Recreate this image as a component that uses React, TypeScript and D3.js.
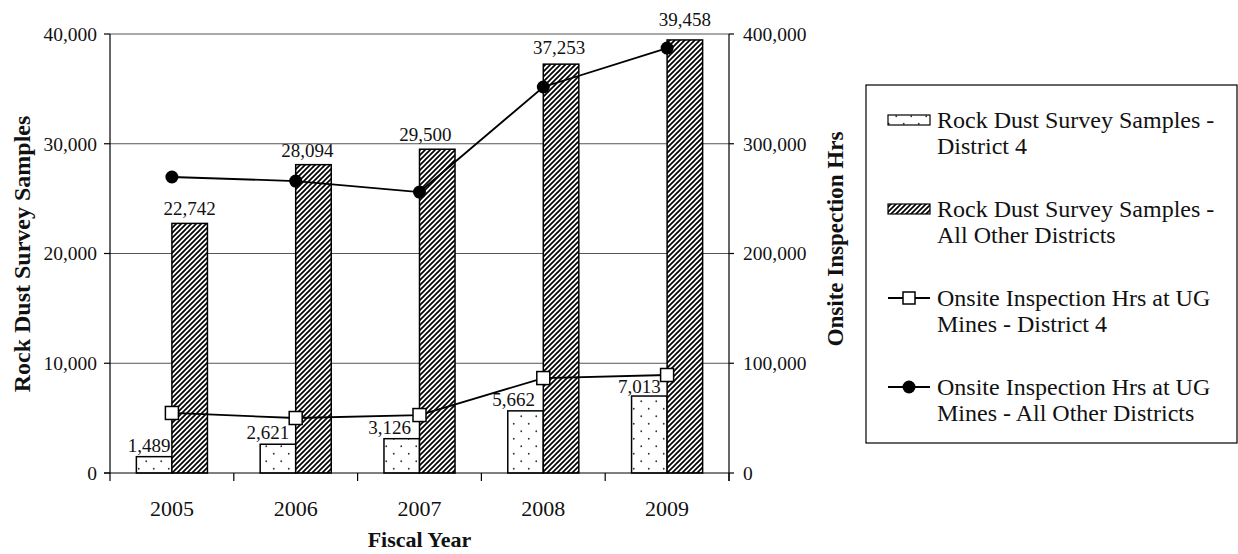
import React from 'react';
import * as d3 from 'd3';

const years = ['2005', '2006', '2007', '2008', '2009'];
const samplesD4 = [1489, 2621, 3126, 5662, 7013];
const samplesOther = [22742, 28094, 29500, 37253, 39458];
const hrsD4 = [54700, 50100, 52800, 86500, 89300];
const hrsOther = [269700, 266000, 256000, 351700, 387200];
const leftTicks = [0, 10000, 20000, 30000, 40000];
const rightTicks = [0, 100000, 200000, 300000, 400000];
const legendLabels = [
  ['Rock Dust Survey Samples -', 'District 4'],
  ['Rock Dust Survey Samples -', 'All Other Districts'],
  ['Onsite Inspection Hrs at UG', 'Mines - District 4'],
  ['Onsite Inspection Hrs at UG', 'Mines - All Other Districts'],
];
// label nudges (style): [dx, dy] per label
const labelNudgeD4 = [[-5, -5], [-10, -5], [-12, -5], [-12, -5], [-10, -3]];
const labelNudgeOther = [[0, -8], [-6, -8], [-12, -8], [-2, -10], [0, -14]];

const FONT = '"Liberation Serif", "Times New Roman", serif';
const T = { fontFamily: FONT };

export default function App() {
  const W = 1238, H = 554;
  const left = 110, right = 729, top = 34, bottom = 473;
  const x = d3.scaleBand<string>().domain(years).range([left, right]).paddingInner(0).paddingOuter(0);
  const yL = d3.scaleLinear().domain([0, 40000]).range([bottom, top]);
  const yR = d3.scaleLinear().domain([0, 400000]).range([bottom, top]);
  const bw = x.bandwidth();
  const barW = bw * 0.287;
  const cx = (y: string) => (x(y) as number) + bw / 2;
  const fmt = d3.format(',');

  const lineGen = (vals: number[]) =>
    d3.line<number>().x((_, i) => cx(years[i])).y((v) => yR(v))(vals) as string;

  const lgX = 866, lgY = 85, lgW = 371, lgH = 358;
  const entryY = (i: number) => 120 + i * 89;

  return (
    <svg width={W} height={H} style={{ position: 'absolute', left: 0, top: 0, background: '#fff' }}>
      <defs>
        <pattern id="hatch" patternUnits="userSpaceOnUse" width={5} height={5}>
          <rect width={5} height={5} fill="#fff" />
          <path d="M-1.25,1.25 L1.25,-1.25 M0,5 L5,0 M3.75,6.25 L6.25,3.75" stroke="#000" strokeWidth={1.7} />
        </pattern>
        <pattern id="dots" patternUnits="userSpaceOnUse" width={15} height={15}>
          <rect width={15} height={15} fill="#fff" />
          <circle cx={3.75} cy={3.75} r={0.9} fill="#333" />
          <circle cx={11.25} cy={11.25} r={0.9} fill="#333" />
        </pattern>
      </defs>

      {/* gridlines */}
      {leftTicks.filter((t) => t > 0).map((t) => (
        <line key={'g' + t} x1={left} x2={right} y1={yL(t)} y2={yL(t)} stroke="#555" strokeWidth={1} />
      ))}

      {/* bars */}
      {years.map((yr, i) => (
        <g key={'b' + yr}>
          <rect x={cx(yr) - barW} y={yL(samplesD4[i])} width={barW} height={bottom - yL(samplesD4[i])}
            fill="url(#dots)" stroke="#000" strokeWidth={1.5} />
          <rect x={cx(yr)} y={yL(samplesOther[i])} width={barW} height={bottom - yL(samplesOther[i])}
            fill="url(#hatch)" stroke="#000" strokeWidth={1.5} />
        </g>
      ))}

      {/* bar labels */}
      {years.map((yr, i) => (
        <g key={'l' + yr}>
          <text style={T} fontSize={19} fill="#111" x={cx(yr) - barW / 2 + labelNudgeD4[i][0]} y={yL(samplesD4[i]) + labelNudgeD4[i][1]} textAnchor="middle">{fmt(samplesD4[i])}</text>
          <text style={T} fontSize={19} fill="#111" x={cx(yr) + barW / 2 + labelNudgeOther[i][0]} y={yL(samplesOther[i]) + labelNudgeOther[i][1]} textAnchor="middle">{fmt(samplesOther[i])}</text>
        </g>
      ))}

      {/* lines */}
      <path d={lineGen(hrsD4)} fill="none" stroke="#000" strokeWidth={1.8} />
      <path d={lineGen(hrsOther)} fill="none" stroke="#000" strokeWidth={1.8} />
      {years.map((yr, i) => (
        <rect key={'s' + yr} x={cx(yr) - 6.5} y={yR(hrsD4[i]) - 6.5} width={13} height={13} fill="#fff" stroke="#000" strokeWidth={1.5} />
      ))}
      {years.map((yr, i) => (
        <circle key={'c' + yr} cx={cx(yr)} cy={yR(hrsOther[i])} r={6.5} fill="#000" />
      ))}

      {/* axes */}
      <line x1={left} x2={left} y1={top} y2={bottom} stroke="#000" strokeWidth={1.2} />
      <line x1={right} x2={right} y1={top} y2={bottom + 8} stroke="#000" strokeWidth={1.2} />
      <line x1={left - 6} x2={right} y1={bottom} y2={bottom} stroke="#000" strokeWidth={1.2} />
      {leftTicks.map((t) => (
        <g key={'lt' + t}>
          <line x1={left - 6} x2={left} y1={yL(t)} y2={yL(t)} stroke="#000" strokeWidth={1.2} />
          <text style={T} x={left - 13} y={yL(t)} dy="0.35em" textAnchor="end" fontSize={19.5} fill="#111">{fmt(t)}</text>
        </g>
      ))}
      {rightTicks.map((t) => (
        <g key={'rt' + t}>
          <line x1={right} x2={right + 5} y1={yR(t)} y2={yR(t)} stroke="#000" strokeWidth={1.2} />
          <text style={T} x={right + 14} y={yR(t)} dy="0.35em" textAnchor="start" fontSize={19.5} fill="#111">{fmt(t)}</text>
        </g>
      ))}
      {years.concat(['end']).map((yr, i) => {
        const xx = left + i * bw;
        return <line key={'xt' + yr} x1={xx} x2={xx} y1={bottom} y2={bottom + 8} stroke="#000" strokeWidth={1.2} />;
      })}
      {years.map((yr) => (
        <text style={T} key={'xl' + yr} x={cx(yr)} y={508} dy="0.35em" textAnchor="middle" fontSize={22} fill="#111">{yr}</text>
      ))}

      {/* axis titles */}
      <text style={T} x={(left + right) / 2} y={539} dy="0.35em" textAnchor="middle" fontSize={22} fontWeight="bold" fill="#111">Fiscal Year</text>
      <text style={T} transform={`translate(22,254) rotate(-90)`} dy="0.35em" textAnchor="middle" fontSize={24} fontWeight="bold" fill="#111">Rock Dust Survey Samples</text>
      <text style={T} transform={`translate(835,239) rotate(-90)`} dy="0.35em" textAnchor="middle" fontSize={23} fontWeight="bold" fill="#111">Onsite Inspection Hrs</text>

      {/* legend */}
      <rect x={lgX} y={lgY} width={lgW} height={lgH} fill="#fff" stroke="#000" strokeWidth={1.2} />
      {legendLabels.map((lines, i) => {
        const yy = entryY(i);
        return (
          <g key={'lg' + i}>
            {i === 0 && <rect x={888} y={yy - 5} width={42} height={10} fill="url(#dots)" stroke="#000" strokeWidth={1.2} />}
            {i === 1 && <rect x={888} y={yy - 5} width={42} height={10} fill="url(#hatch)" stroke="#000" strokeWidth={1.2} />}
            {i >= 2 && <line x1={888} x2={930} y1={yy} y2={yy} stroke="#000" strokeWidth={1.8} />}
            {i === 2 && <rect x={903} y={yy - 6} width={12} height={12} fill="#fff" stroke="#000" strokeWidth={1.5} />}
            {i === 3 && <circle cx={909} cy={yy} r={6.5} fill="#000" />}
            {lines.map((t, j) => (
              <text style={T} key={j} x={937} y={yy + j * 25.5} dy="0.35em" fontSize={24} fill="#111">{t}</text>
            ))}
          </g>
        );
      })}
    </svg>
  );
}
